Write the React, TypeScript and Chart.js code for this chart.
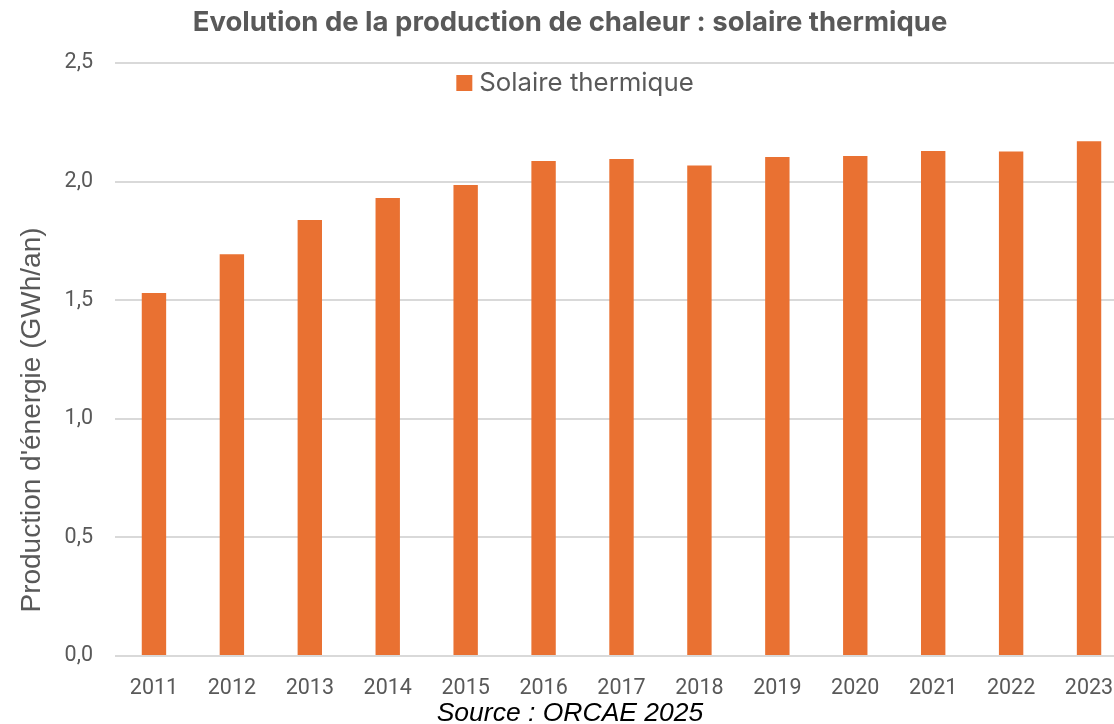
import React, { useEffect, useRef } from "react";
import { Chart, registerables } from "chart.js";

Chart.register(...registerables);

const years = ["2011", "2012", "2013", "2014", "2015", "2016", "2017", "2018", "2019", "2020", "2021", "2022", "2023"];
const solaireThermique = [1.53, 1.694, 1.838, 1.931, 1.986, 2.087, 2.095, 2.068, 2.104, 2.108, 2.129, 2.127, 2.170];
const seriesLabel = "Solaire thermique";
const chartTitle = "Evolution de la production de chaleur : solaire thermique";
const yAxisTitle = "Production d'énergie (GWh/an)";
const sourceText = "Source : ORCAE 2025";

const ORANGE = "#E97132";
const GREY = "#595959";
const GRID = "#D9D9D9";

const decorPlugin = {
  id: "decor",
  afterDraw(chart: any) {
    const ctx = chart.ctx;
    const w = chart.width;
    ctx.save();
    ctx.textBaseline = "alphabetic";
    // Title
    ctx.fillStyle = GREY;
    ctx.font = "bold 27.5px Inter";
    ctx.textAlign = "center";
    ctx.fillText(chartTitle, w / 2, 31);
    // Legend
    ctx.font = "25.8px Inter";
    const tw = ctx.measureText(seriesLabel).width;
    const box = 16;
    const gap = 7;
    const total = box + gap + tw;
    const lx = 575 - total / 2;
    ctx.fillStyle = ORANGE;
    ctx.fillRect(lx, 75, box, box);
    ctx.fillStyle = GREY;
    ctx.textAlign = "left";
    ctx.fillText(seriesLabel, lx + box + gap, 91);
    // Y axis title
    ctx.save();
    ctx.translate(40, 420);
    ctx.rotate(-Math.PI / 2);
    ctx.textAlign = "center";
    ctx.font = "28px 'Liberation Sans'";
    ctx.fillStyle = GREY;
    ctx.fillText(yAxisTitle, 0, 0);
    ctx.restore();
    // Source
    ctx.fillStyle = "#000000";
    ctx.font = "italic 26.5px 'Liberation Sans'";
    ctx.textAlign = "center";
    ctx.fillText(sourceText, w / 2, 721);
    ctx.restore();
  },
};

export default function App() {
  const ref = useRef<HTMLCanvasElement | null>(null);
  useEffect(() => {
    document.body.style.margin = "0";
    document.body.style.overflow = "hidden";
    if (!ref.current) return;
    const chart = new Chart(ref.current, {
      type: "bar",
      data: {
        labels: years,
        datasets: [
          {
            label: seriesLabel,
            data: solaireThermique,
            backgroundColor: ORANGE,
            borderWidth: 0,
            barPercentage: 1,
            categoryPercentage: 0.313,
          },
        ],
      },
      options: {
        responsive: false,
        animation: false,
        layout: { padding: { top: 63, bottom: 25, left: 65, right: 12 } },
        plugins: {
          legend: { display: false },
          title: { display: false },
          tooltip: { enabled: false },
        },
        scales: {
          x: {
            grid: { display: false, drawTicks: false },
            border: { display: false },
            ticks: { color: GREY, font: { family: "Roboto", size: 21.5 }, padding: 20, maxRotation: 0, autoSkip: false },
            afterFit: (s: any) => {
              s.height = 43;
            },
          },
          y: {
            min: 0,
            max: 2.5,
            grid: { color: GRID, lineWidth: 2, drawTicks: false },
            border: { display: false },
            ticks: {
              stepSize: 0.5,
              color: GREY,
              font: { family: "Roboto", size: 21.5 },
              padding: 22,
              callback: (v: any) => Number(v).toFixed(1).replace(".", ","),
            },
            afterFit: (s: any) => {
              s.width = 50;
            },
          },
        },
      },
      plugins: [decorPlugin],
    });
    return () => chart.destroy();
  }, []);
  return (
    <div style={{ width: 1114, height: 724, overflow: "hidden", position: "relative" }}>
      <canvas ref={ref} width={1140} height={724} style={{ display: "block" }} />
    </div>
  );
}
